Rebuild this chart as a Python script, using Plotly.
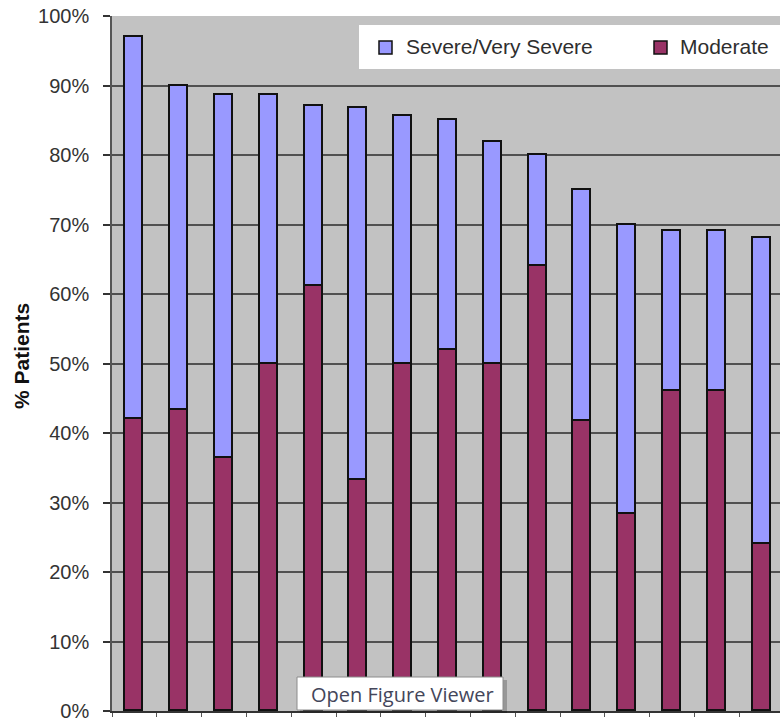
import plotly.graph_objects as go

# Share of patients by severity in each group (percent)
groups = list(range(15))
moderate = [42.0, 43.3, 36.4, 50.0, 61.2, 33.3, 50.0, 51.9, 50.0, 64.0, 41.7, 28.3, 46.0, 46.0, 24.0]
severe = [55.0, 46.7, 52.2, 38.6, 25.8, 53.4, 35.6, 33.2, 31.8, 16.0, 33.3, 41.7, 23.1, 23.1, 44.0]
series_names = ["Severe/Very Severe", "Moderate"]
y_ticks = list(range(0, 101, 10))
y_tick_text = [f"{v}%" for v in y_ticks]

COL_MOD = "#993366"
COL_SEV = "#9999FF"
EDGE = "#111111"

W, H = 780, 718
ML, MR, MT, MB = 112, 0, 16, 7
PW, PH = W - ML - MR, H - MT - MB
CAT = 44.8  # pixel width of one category


def px_x(x):
    return (x - ML) / PW


def px_y(y):
    return (H - MB - y) / PH


FONT = "Arial, Liberation Sans, sans-serif"

fig = go.Figure()
fig.add_trace(go.Bar(
    x=groups, y=moderate, name=series_names[1], width=0.4,
    marker=dict(color=COL_MOD, line=dict(color=EDGE, width=1.6)),
))
fig.add_trace(go.Bar(
    x=groups, y=severe, name=series_names[0], width=0.4,
    marker=dict(color=COL_SEV, line=dict(color=EDGE, width=1.6)),
))

shapes = [
    # legend panel
    dict(type="rect", xref="paper", yref="paper", layer="above",
         x0=px_x(359), x1=px_x(782), y0=px_y(69), y1=px_y(25),
         fillcolor="white", line=dict(width=0)),
    # tooltip shadow and box
    dict(type="rect", xref="paper", yref="paper", layer="above",
         x0=px_x(300), x1=px_x(507), y0=px_y(713), y1=px_y(680),
         fillcolor="rgba(0,0,0,0.22)", line=dict(width=0)),
    dict(type="rect", xref="paper", yref="paper", layer="above",
         x0=px_x(297), x1=px_x(503), y0=px_y(710), y1=px_y(677),
         fillcolor="white", line=dict(color="#8c8c8c", width=1)),
]

annotations = [
    dict(text="Open Figure Viewer", xref="paper", yref="paper",
         x=px_x(309), y=px_y(694), xanchor="left", yanchor="middle",
         showarrow=False, font=dict(family="Open Sans, Noto Sans, sans-serif",
                                    size=20, color="#44465a")),
    dict(text="<b>% Patients</b>", xref="paper", yref="paper",
         x=px_x(22), y=px_y(356), xanchor="center", yanchor="middle",
         textangle=-90, showarrow=False,
         font=dict(family=FONT, size=21, color="#111111")),
]

# legend keys: colour square + label
for sx, tx, name, col in [(379, 404, series_names[0], COL_SEV),
                          (654, 678, series_names[1], COL_MOD)]:
    shapes.append(dict(type="rect", xref="paper", yref="paper", layer="above",
                       x0=px_x(sx), x1=px_x(sx + 13), y0=px_y(54), y1=px_y(41),
                       fillcolor=col, line=dict(color=EDGE, width=1.5)))
    annotations.append(dict(text=name, xref="paper", yref="paper",
                            x=px_x(tx), y=px_y(47), xanchor="left", yanchor="middle",
                            showarrow=False,
                            font=dict(family=FONT, size=21, color="#2e2e2e")))

fig.update_layout(
    width=W, height=H,
    margin=dict(l=ML, r=MR, t=MT, b=MB, pad=0, autoexpand=False),
    paper_bgcolor="white",
    plot_bgcolor="#C2C2C2",
    barmode="stack",
    bargap=0,
    font=dict(family=FONT, size=15, color="#333333"),
    shapes=shapes,
    annotations=annotations,
    showlegend=False,
    hovermode=False,
)

fig.update_xaxes(
    range=[-0.5, -0.5 + PW / CAT],
    automargin=False,
    showgrid=False, zeroline=False,
    showline=True, linecolor="#333333", linewidth=1.5,
    tickmode="array", tickvals=[g - 0.5 for g in groups] + [14.5],
    ticks="outside", ticklen=4, tickcolor="#555555", tickwidth=1,
    showticklabels=False,
)
fig.update_yaxes(
    range=[0, 100],
    automargin=False,
    tickmode="array", tickvals=y_ticks, ticktext=y_tick_text,
    showgrid=True, gridcolor="#505050", gridwidth=2,
    zeroline=False,
    showline=True, linecolor="#555555", linewidth=1.5,
    ticks="outside", ticklen=7, tickcolor="#333333", tickwidth=1.5,
    ticklabelstandoff=10, ticklabeloverflow="allow",
    tickfont=dict(family=FONT, size=20, color="#333333"),
)

fig.write_html("out.html")
